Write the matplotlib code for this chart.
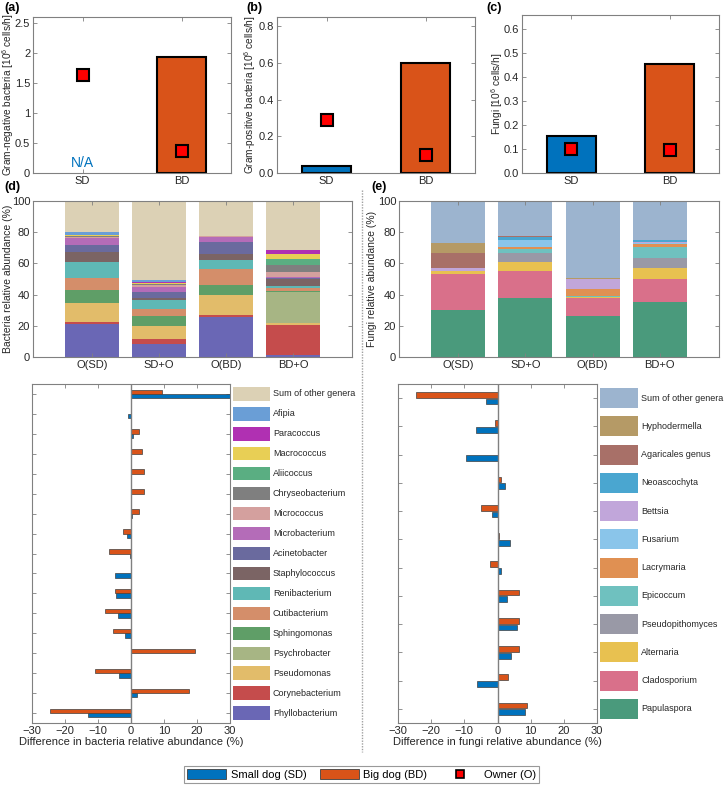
import numpy as np
import matplotlib
matplotlib.use("Agg")
import matplotlib.pyplot as plt
from matplotlib.patches import Patch
from matplotlib.lines import Line2D

plt.rcParams['font.family'] = ['Liberation Sans', 'DejaVu Sans']
plt.rcParams['font.size'] = 8
plt.rcParams['mathtext.fontset'] = 'custom'
plt.rcParams['mathtext.rm'] = 'Liberation Sans'

blue = "#0072BD"
orange = "#D95319"
spine_col = "#808080"
text_col = "#262626"

# ---- top panels: emission rates ----
dogs = ["SD", "BD"]
gram_neg = [None, 1.94]
gram_neg_owner = [1.63, 0.37]
gram_pos = [0.036, 0.60]
gram_pos_owner = [0.29, 0.10]
fungi_rate = [0.155, 0.455]
fungi_rate_owner = [0.101, 0.094]

# ---- stacked relative abundance (bottom -> top) ----
samples = ["O(SD)", "SD+O", "O(BD)", "BD+O"]

bact_genera = ["Phyllobacterium", "Corynebacterium", "Pseudomonas", "Psychrobacter",
               "Sphingomonas", "Cutibacterium", "Renibacterium", "Staphylococcus",
               "Acinetobacter", "Microbacterium", "Micrococcus", "Chryseobacterium",
               "Aliicoccus", "Macrococcus", "Paracoccus", "Afipia", "Sum of other genera"]
bact_colors = ["#6A67B5", "#C54C4C", "#E2BC6A", "#A7B584", "#5F9E67", "#D48E6A",
               "#5FB8B5", "#7B6464", "#6A6A9E", "#B46CB8", "#D4A09E", "#7F7F7F",
               "#5AAE82", "#E8CF55", "#B030B2", "#6A9ED6", "#DCD1B5"]
bact_osd = [21.4, 1.3, 12.0, 0.0, 8.1, 7.9, 10.3, 6.2, 4.5, 4.3, 1.0, 0.5, 0.3, 0.3, 0.2, 1.7, 20.0]
bact_sdo = [8.5, 2.8, 8.8, 0.0, 6.4, 4.1, 5.7, 1.7, 3.7, 3.2, 1.3, 0.5, 0.3, 0.3, 0.9, 1.4, 50.4]
bact_obd = [25.4, 1.7, 12.4, 0.0, 6.8, 9.8, 5.8, 4.3, 7.5, 3.2, 0.6, 0.1, 0.0, 0.0, 0.1, 0.1, 22.2]
bact_bdo = [1.0, 19.5, 1.6, 19.3, 1.2, 1.9, 1.0, 4.5, 0.9, 0.7, 3.1, 4.0, 3.8, 3.4, 2.4, 0.0, 31.7]
bact_diff_sd = [-12.9, 1.7, -3.7, 0.0, -1.8, -3.8, -4.6, -4.7, -0.3, -1.3, 0.3, 0.0, 0.0, 0.0, 0.6, -0.9, 30.4]
bact_diff_bd = [-24.4, 17.7, -10.8, 19.3, -5.6, -7.9, -4.8, 0.1, -6.6, -2.5, 2.5, 3.9, 3.8, 3.3, 2.3, -0.1, 9.3]

fungi_genera = ["Papulaspora", "Cladosporium", "Alternaria", "Pseudopithomyces", "Epicoccum",
                "Lacrymaria", "Fusarium", "Bettsia", "Neoascochyta", "Agaricales genus",
                "Hyphodermella", "Sum of other genera"]
fungi_colors = ["#4A9A7C", "#D9708A", "#E8C150", "#9999A6", "#6FC1BF", "#E09052",
                "#8AC5EA", "#C1A6DA", "#4AA6D0", "#A87068", "#B59A66", "#9CB4CF"]
fungi_osd = [30.3, 22.6, 2.0, 0.0, 0.0, 0.0, 0.0, 2.1, 0.0, 9.6, 6.6, 26.8]
fungi_sdo = [38.0, 16.9, 6.0, 6.0, 2.5, 1.1, 4.3, 0.4, 1.9, 0.2, 0.1, 22.6]
fungi_obd = [26.1, 11.9, 0.3, 0.2, 0.6, 4.4, 0.0, 6.2, 0.0, 0.3, 0.4, 49.6]
fungi_bdo = [35.0, 15.2, 6.8, 6.3, 7.0, 2.3, 0.6, 0.7, 1.2, 0.0, 0.2, 24.7]
fungi_diff_sd = [8.2, -6.1, 4.0, 6.0, 2.8, 1.0, 3.9, -1.7, 2.4, -9.4, -6.5, -3.5]
fungi_diff_bd = [8.9, 3.2, 6.6, 6.5, 6.5, -2.3, 0.5, -5.0, 1.2, 0.0, -0.8, -24.7]

W, H = 725, 786
fig = plt.figure(figsize=(W / 100, H / 100), dpi=100)


def px_axes(left, top, right, bottom):
    return fig.add_axes([left / W, 1 - bottom / H, (right - left) / W, (bottom - top) / H])


def style(ax):
    for s in ax.spines.values():
        s.set_color(spine_col)
        s.set_linewidth(0.8)
    ax.tick_params(direction="in", top=True, right=True, length=3, width=0.6,
                   color=spine_col, labelcolor=text_col, labelsize=8, pad=2)


def letter(x, y, s):
    fig.text(x / W, 1 - y / H, s, fontweight="bold", fontsize=9, va="center", ha="left")


# ---- top panels ----
def rate_panel(ax, vals, owner, ylim, yticks, ylabel, label_x):
    x = np.arange(1, 3)
    for xi, v, c in zip(x, vals, [blue, orange]):
        if v is not None:
            ax.bar(xi, v, width=0.5, color=c, edgecolor="black", linewidth=1.5, zorder=2)
    ax.plot(x, owner, "s", color="red", markeredgecolor="black", markersize=8,
            markeredgewidth=1.5, zorder=3)
    ax.set_xlim(0.5, 2.5)
    ax.set_ylim(*ylim)
    ax.set_yticks(yticks)
    ax.set_xticks(x)
    ax.set_xticklabels(dogs)
    ax.set_ylabel(ylabel, color=text_col, fontsize=7.3, va="center")
    ax.yaxis.set_label_coords(label_x, 0.5)
    style(ax)


ax_a = px_axes(33, 17, 231, 173)
rate_panel(ax_a, gram_neg, gram_neg_owner, (0, 2.6), [0, 0.5, 1, 1.5, 2, 2.5],
           "Gram-negative bacteria [10$^6$ cells/h]", -0.125)
ax_a.set_yticklabels(["0", "0.5", "1", "1.5", "2", "2.5"])
ax_a.text(1, 0.17, "N/A", color=blue, ha="center", va="center", fontsize=10)

ax_b = px_axes(277, 17, 475, 173)
rate_panel(ax_b, gram_pos, gram_pos_owner, (0, 0.85), [0, 0.2, 0.4, 0.6, 0.8],
           "Gram-positive bacteria [10$^6$ cells/h]", -0.135)

ax_c = px_axes(522, 15, 719, 173)
rate_panel(ax_c, fungi_rate, fungi_rate_owner, (0, 0.66), [0, 0.1, 0.2, 0.3, 0.4, 0.5, 0.6],
           "Fungi [10$^6$ cells/h]", -0.127)

letter(4, 8, "(a)")
letter(246, 8, "(b)")
letter(486, 8, "(c)")


# ---- stacked panels ----
def stacked_panel(ax, columns, colors, ylabel, label_x):
    x = np.arange(1, 5)
    data = np.array(columns).T  # genera x samples
    bottom = np.zeros(4)
    for row, c in zip(data, colors):
        ax.bar(x, row, bottom=bottom, width=0.8, color=c, linewidth=0)
        bottom += row
    ax.set_xlim(0.12, 4.88)
    ax.set_ylim(0, 100)
    ax.set_yticks(range(0, 101, 20))
    ax.set_xticks(x)
    ax.set_xticklabels(samples)
    ax.set_ylabel(ylabel, color=text_col, fontsize=7.5, va="center")
    ax.yaxis.set_label_coords(label_x, 0.5)
    style(ax)


ax_d = px_axes(33, 201, 352, 357)
stacked_panel(ax_d, [bact_osd, bact_sdo, bact_obd, bact_bdo], bact_colors,
              "Bacteria relative abundance (%)", -0.078)
ax_e = px_axes(399, 201, 719, 357)
stacked_panel(ax_e, [fungi_osd, fungi_sdo, fungi_obd, fungi_bdo], fungi_colors,
              "Fungi relative abundance (%)", -0.084)
letter(4, 187, "(d)")
letter(371, 187, "(e)")


# ---- difference panels ----
def diff_panel(ax, axl, genera, colors, d_sd, d_bd, xlabel, patch_h, off, bh):
    y = np.arange(1, len(genera) + 1)
    ax.barh(y - off, d_sd, height=bh, color=blue, edgecolor="#404040", linewidth=0.5, zorder=2)
    ax.barh(y + off, d_bd, height=bh, color=orange, edgecolor="#404040", linewidth=0.5, zorder=2)
    ax.axvline(0, color=spine_col, linewidth=1, zorder=3)
    ax.set_xlim(-30, 30)
    ax.set_ylim(0.5, len(genera) + 0.5)
    ax.set_xticks(range(-30, 31, 10))
    ax.set_yticks(y)
    ax.set_yticklabels([])
    ax.set_xlabel(xlabel, color=text_col, labelpad=1)
    style(ax)
    # colour key aligned with rows
    axl.barh(y, 1, left=0, height=patch_h, color=colors, linewidth=0)
    for yi, g in zip(y, genera):
        axl.text(1.08, yi, g, va="center", ha="left", fontsize=6.5, color=text_col)
    axl.set_xlim(0, 1)
    axl.set_ylim(0.5, len(genera) + 0.5)
    axl.axis("off")


ax_f = px_axes(32, 384, 230, 723)
ax_fl = px_axes(233, 384, 270, 723)
diff_panel(ax_f, ax_fl, bact_genera, bact_colors, bact_diff_sd, bact_diff_bd,
           "Difference in bacteria relative abundance (%)", 0.67, 0.11, 0.22)

ax_g = px_axes(398, 384, 597, 723)
ax_gl = px_axes(600, 384, 638, 723)
diff_panel(ax_g, ax_gl, fungi_genera, fungi_colors, fungi_diff_sd, fungi_diff_bd,
           "Difference in fungi relative abundance (%)", 0.71, 0.12, 0.21)

# dotted separator
fig.add_artist(Line2D([362 / W, 362 / W], [1 - 190 / H, 1 - 752 / H], color="#A0A0A0",
                      linestyle=(0, (1, 1)), linewidth=1))

handles = [Patch(facecolor=blue, edgecolor="#404040", linewidth=0.6, label="Small dog (SD)"),
           Patch(facecolor=orange, edgecolor="#404040", linewidth=0.6, label="Big dog (BD)"),
           Line2D([], [], marker="s", linestyle="none", color="red", markeredgecolor="black",
                  markersize=6, markeredgewidth=1.2, label="Owner (O)")]
leg = fig.legend(handles=handles, loc="center", bbox_to_anchor=(361.5 / W, 1 - 774.5 / H),
                 ncol=3, fontsize=8, frameon=True, fancybox=False, edgecolor=spine_col,
                 handlelength=3.5, handleheight=1.0, columnspacing=1.2, handletextpad=0.4,
                 borderpad=0.3)
leg.get_frame().set_linewidth(0.8)

fig.savefig("out.png", dpi=100)
